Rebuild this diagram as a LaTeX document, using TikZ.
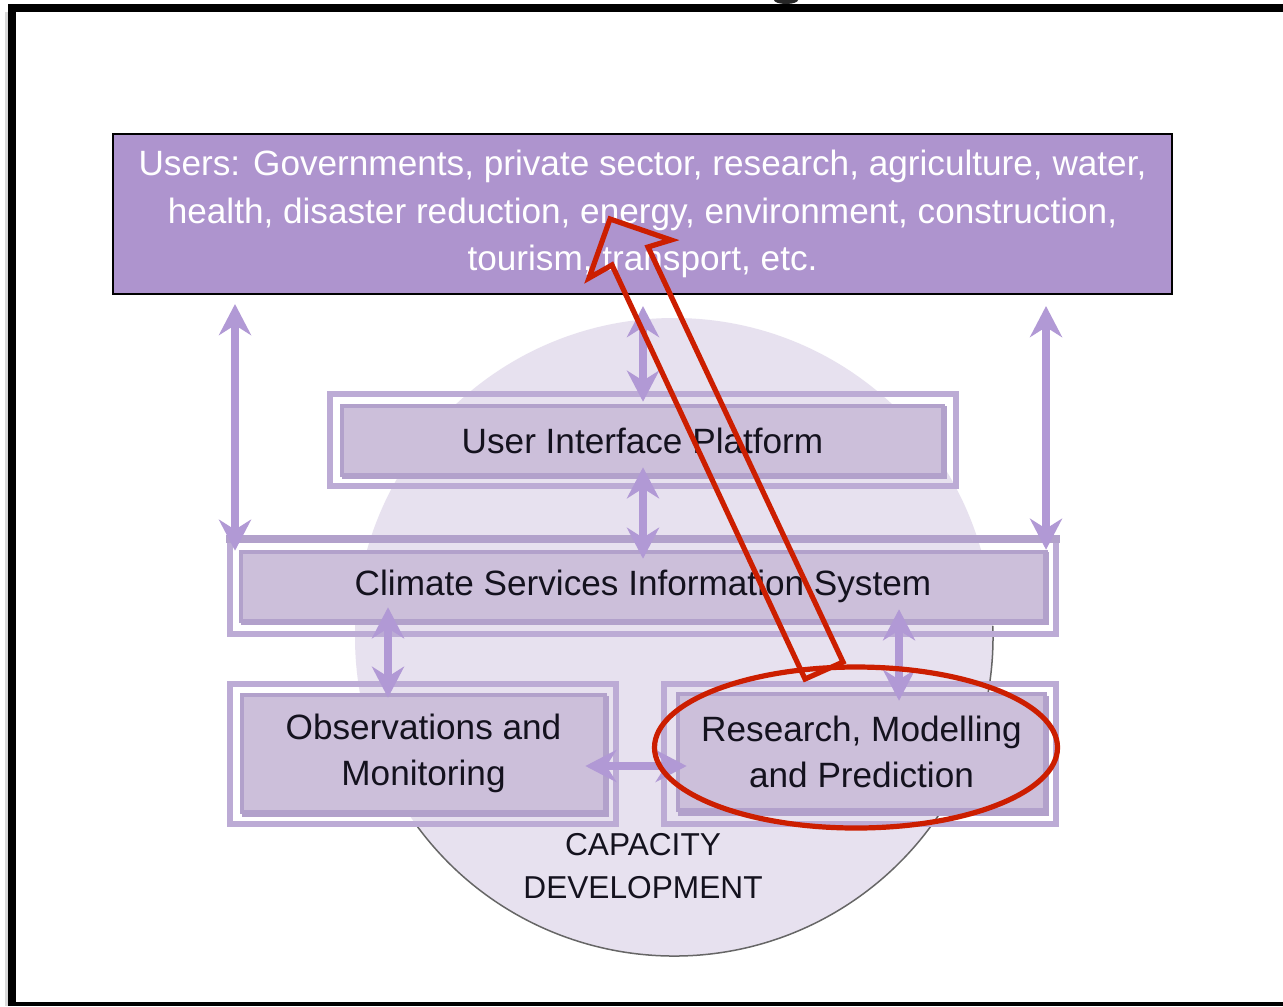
\documentclass[tikz,border=0pt]{standalone}
\usepackage{fontspec}
\setmainfont{Liberation Sans}
\usetikzlibrary{arrows.meta,calc}
\definecolor{topfill}{RGB}{174,148,206}
\definecolor{boxfill}{RGB}{204,191,218}
\definecolor{boxline}{RGB}{178,161,203}
\definecolor{framecol}{RGB}{188,171,213}
\definecolor{arrcol}{RGB}{177,153,213}
\definecolor{circfill}{RGB}{231,225,239}
\definecolor{redc}{RGB}{204,30,0}
\definecolor{txt}{RGB}{20,18,30}
\begin{document}
\begin{tikzpicture}[x=0.01cm,y=-0.01cm,
 usersbox/.style={draw=black, fill=topfill, line width=0.02cm, inner sep=0pt,
   text=white, font=\fontsize{10}{13.4}\selectfont, align=center},
 ibox/.style={draw=boxline, fill=boxfill, line width=0.045cm, inner sep=0pt,
   text=txt, font=\fontsize{10}{13.1}\selectfont, align=center},
 oframe/.style={draw=framecol, line width=0.055cm},
 shadowbox/.style={fill=boxline},
 dbl/.style={draw=arrcol, line width=0.08cm,
   {Stealth[length=0.31cm,width=0.32cm,inset=0.1cm]}-{Stealth[length=0.31cm,width=0.32cm,inset=0.1cm]}},
 redline/.style={draw=redc, line width=0.052cm, line join=miter},
]
\useasboundingbox (0,0) rectangle (1283,1006);
\fill[white] (0,0) rectangle (1283,1006);

% page frame
\fill[black!15] (5,12) rectangle (8,1006);
\fill[black] (8,4) rectangle (1283,12);
\fill[black] (8,4) rectangle (16,1006);
\fill[black] (8,1002) rectangle (1283,1006);
\fill[black!85] (786,0) ellipse [x radius=12, y radius=4];

% capacity development circle
\fill[circfill] (674,637) circle [radius=319];
\draw[black!60, line width=0.015cm] (674,637) ++(144:319) arc [start angle=144, end angle=-2, radius=319];

% users box
\node[usersbox, minimum width=10.59cm, minimum height=1.6cm] (users) at (642.5,214)
  {Users: Governments, private sector, research, agriculture, water,\\
   health, disaster reduction, energy, environment, construction,\\
   tourism, transport, etc.};

% outer frames
\draw[oframe] (330,394) rectangle (956,486);
\draw[oframe] (230,539) -- (230,634) -- (1056,634) -- (1056,539);
\draw[draw=boxline, line width=0.08cm] (226,539) -- (1060,539);
\draw[oframe] (230,684) rectangle (616,824);
\draw[oframe] (664,684) rectangle (1056,824);

% shadows of inner boxes
\fill[shadowbox] (342,406) rectangle (947,479);
\fill[shadowbox] (241,552) rectangle (1049,625);
\fill[shadowbox] (242,696) rectangle (609,817);
\fill[shadowbox] (678,696) rectangle (1049,816);

% inner boxes
\node[ibox, minimum width=6.01cm, minimum height=0.69cm] (uip) at (642.5,440.5) {User Interface Platform};
\node[ibox, minimum width=8.04cm, minimum height=0.69cm] (csis) at (643,586.5) {Climate Services Information System};
\node[ibox, minimum width=3.63cm, minimum height=1.17cm] (obs) at (423.5,753.5) {Observations and\\Monitoring};
\node[ibox, minimum width=3.67cm, minimum height=1.16cm] (rmp) at (861.5,752) {Research, Modelling\\and Prediction};

\node[text=txt, font=\fontsize{9}{12}\selectfont, align=center, inner sep=0pt] (cap) at (643,866) {CAPACITY\\DEVELOPMENT};

% arrows
\coordinate (aL) at (235,0);
\coordinate (aR) at (1046,0);
\coordinate (aM) at (643,0);
\coordinate (aO) at (388,0);
\coordinate (aP) at (899,0);
\coordinate (aH) at (0,766);
\draw[dbl, shorten <=0.09cm, shorten >=-0.01cm] (users.south -| aL) -- (csis.north -| aL);
\draw[dbl, shorten <=0.11cm, shorten >=0cm] (users.south -| aR) -- (csis.north -| aR);
\draw[dbl, shorten <=0.11cm, shorten >=0.02cm] (users.south -| aM) -- (uip.north -| aM);
\draw[dbl, shorten <=-0.10cm, shorten >=-0.09cm] (uip.south -| aM) -- (csis.north -| aM);
\draw[dbl, shorten <=-0.16cm, shorten >=-0.05cm] (csis.south -| aO) -- (obs.north -| aO);
\draw[dbl, shorten <=-0.14cm, shorten >=-0.09cm] (csis.south -| aP) -- (rmp.north -| aP);
\draw[dbl, shorten <=-0.22cm, shorten >=-0.11cm] (obs.east |- aH) -- (rmp.west |- aH);

% red annotation
\draw[redline] (805,679) -- (612,265) -- (589,278) -- (610,219) -- (671,240) -- (648,247) -- (843,662) -- cycle;
\draw[redline] (856,747.5) ellipse [x radius=201.5, y radius=80.5];
\end{tikzpicture}
\end{document}
